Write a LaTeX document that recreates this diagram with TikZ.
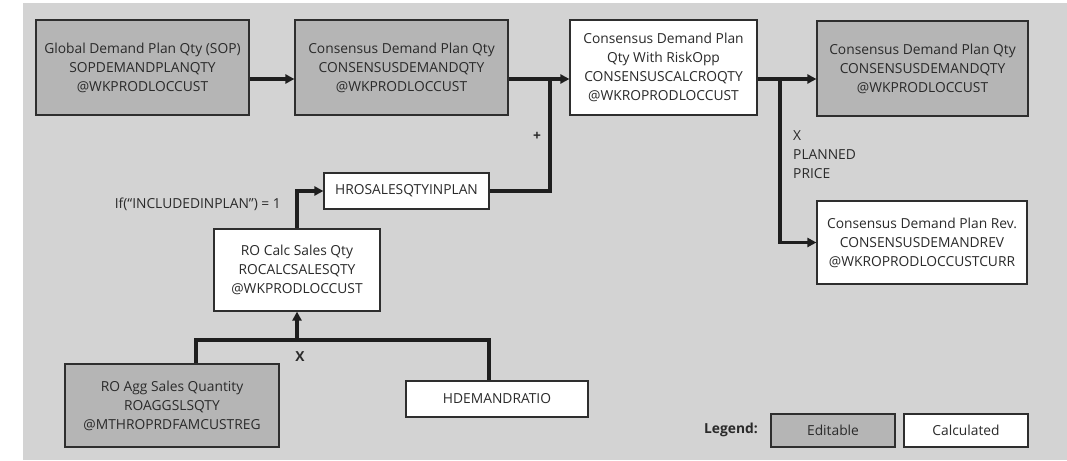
\documentclass[tikz,border=0pt]{standalone}
\usepackage{fontspec}
\setmainfont{Open Sans}
\usetikzlibrary{arrows.meta}
\definecolor{bggray}{HTML}{D3D3D3}
\definecolor{edgray}{HTML}{B5B5B5}
\definecolor{bordc}{HTML}{2E2E2E}
\definecolor{linec}{HTML}{1E1E1E}
\definecolor{txtc}{HTML}{2A2A2A}
\tikzset{
  box/.style={draw=bordc, line width=1.2pt, inner sep=0pt, align=center,
     font=\fontsize{13.8}{19}\selectfont, text=txtc},
  editbox/.style={box, fill=edgray},
  calcbox/.style={box, fill=white},
  conn/.style={draw=linec, line width=3.2pt},
  arr/.style={conn, -{Triangle[length=9pt,width=9pt]}},
  lbl/.style={font=\fontsize{13.8}{19}\selectfont, text=txtc, inner sep=0pt},
  blbl/.style={lbl, font=\fontsize{13.8}{19}\selectfont\bfseries},
}
\begin{document}
\begin{tikzpicture}[x=1pt,y=-1pt]
\useasboundingbox (0,0) rectangle (1067,460);
\fill[bggray] (23,3) rectangle (1067,460);
% boxes
\node[editbox, minimum width=213pt, minimum height=95pt] (gdp) at (142.5,67.5)
  {Global Demand Plan Qty (SOP)\\SOPDEMANDPLANQTY\\@WKPRODLOCCUST};
\node[editbox, minimum width=213pt, minimum height=95pt] (cdq) at (401.5,67.5)
  {Consensus Demand Plan Qty\\CONSENSUSDEMANDQTY\\@WKPRODLOCCUST};
\node[calcbox, minimum width=187pt, minimum height=95pt] (cro) at (663.5,67.5)
  {Consensus Demand Plan\\Qty With RiskOpp\\CONSENSUSCALCROQTY\\@WKROPRODLOCCUST};
\node[editbox, minimum width=211pt, minimum height=95pt] (cdq2) at (922.5,68.5)
  {Consensus Demand Plan Qty\\CONSENSUSDEMANDQTY\\@WKPRODLOCCUST};
\node[calcbox, minimum width=210pt, minimum height=83pt] (rev) at (922,242.5)
  {Consensus Demand Plan Rev.\\CONSENSUSDEMANDREV\\@WKROPRODLOCCUSTCURR};
\node[calcbox, minimum width=165pt, minimum height=36pt] (hro) at (406.5,191)
  {HROSALESQTYINPLAN};
\node[calcbox, minimum width=166pt, minimum height=82pt] (rocalc) at (297,270)
  {RO Calc Sales Qty\\ROCALCSALESQTY\\@WKPRODLOCCUST};
\node[editbox, minimum width=214pt, minimum height=83pt] (roagg) at (172,405.5)
  {RO Agg Sales Quantity\\ROAGGSLSQTY\\@MTHROPRDFAMCUSTREG};
\node[calcbox, minimum width=182pt, minimum height=36pt] (hdr) at (497,399)
  {HDEMANDRATIO};
% legend
\node[editbox, minimum width=124pt, minimum height=33pt] (leged) at (833,430.5) {Editable};
\node[calcbox, minimum width=124pt, minimum height=33pt] (legcalc) at (966,430.5) {Calculated};
\node[blbl, anchor=east] (legl) at (758,430) {Legend:};
% coordinates
\coordinate (j1) at (550,79);
\coordinate (j1b) at (550,191);
\coordinate (j2) at (780,79);
\coordinate (j2b) at (780,242.5);
\coordinate (r1) at (297,191);
\coordinate (m1) at (297,340);
\coordinate (m2) at (196,340);
\coordinate (m3) at (489,340);
% connectors
\draw[arr] (gdp.east |- 0,79) -- (cdq.west |- 0,79);
\draw[arr] (cdq.east |- 0,79) -- (cro.west |- 0,79);
\draw[conn] (hro.east) -- (j1b) -- ([yshift=-1.6pt]j1);
\draw[arr] (cro.east |- 0,79) -- (cdq2.west |- 0,79);
\draw[arr] ([yshift=-1.6pt]j2) -- (j2b) -- (rev.west);
\draw[arr] (rocalc.north) -- (r1) -- (hro.west);
\draw[conn] (roagg.north -| m2) -- (m2) -- (m3) -- (hdr.north -| m3);
\draw[arr] (m1) -- (rocalc.south);
% labels
\node[blbl] (plus) at (537,136) {+};
\node[blbl] (xl) at (300,357) {X};
\node[lbl, anchor=west] (xp) at (793,136) {X};
\node[lbl, anchor=west] (pp) at (793,155) {PLANNED};
\node[lbl, anchor=west] (pr) at (793,174) {PRICE};
\node[lbl, anchor=east] (cond) at (281,204) {If(“INCLUDEDINPLAN”) = 1};
\end{tikzpicture}
\end{document}
